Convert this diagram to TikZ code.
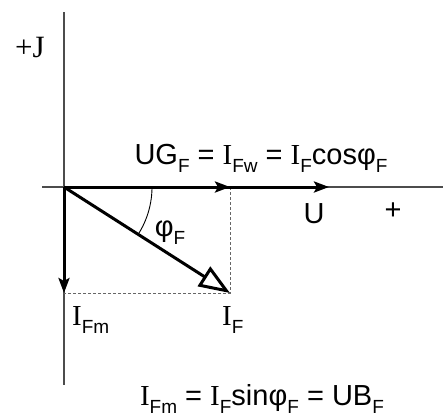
\documentclass[tikz,border=0pt]{standalone}
\usepackage{fontspec}
\setmainfont{Liberation Sans}
\newfontfamily\serifI{Liberation Serif}
\usetikzlibrary{arrows.meta}
\newcommand{\Ii}{{\serifI I}}
\newcommand{\sbs}[1]{\raisebox{-0.28em}{\fontsize{19}{19}\selectfont #1}}
\begin{document}
\begin{tikzpicture}[x=1pt,y=-1pt,
  axis/.style={line width=1.2pt,black!70},
  vec/.style={line width=3pt,-{Stealth[length=15pt,width=11pt,inset=3pt]}},
  openvec/.style={line width=3pt,-{Triangle[open,length=31pt,width=23pt,line width=3pt]}},
  helper/.style={line width=0.9pt,black!60,dashed,dash pattern=on 3pt off 2pt},
  lbl/.style={inner sep=0pt,font=\fontsize{29}{33}\selectfont}]
\useasboundingbox (0,0) rectangle (443,418);
\coordinate (O) at (64,187);
\coordinate (Xl) at (42,187);
\coordinate (Xr) at (443,187);
\coordinate (Yt) at (64,12);
\coordinate (Yb) at (64,385);
\coordinate (Fw) at (230,187);
\coordinate (U) at (329,187);
\coordinate (F) at (230,293);
\coordinate (Fm) at (64,293);
\coordinate (A1) at (152,187);
\draw[axis] (Xl) -- (Xr);
\draw[axis] (Yt) -- (Yb);
\draw[helper] (Fw) -- (F) -- (Fm);
\draw[line width=0.9pt] (A1) arc[start angle=0,end angle=32.6,radius=88];
\draw[vec] (O) -- (U);
\draw[vec] (O) -- (Fw);
\draw[vec] (O) -- (Fm);
\draw[openvec] (O) -- (F);
\node[lbl,font=\fontsize{31}{33}\serifI,anchor=base] (J) at (30,57) {+J};
\node[lbl,anchor=base] (top) at (261,164) {UG\sbs{F} = \Ii\sbs{Fw} = \Ii\sbs{F}cosφ\sbs{F}};
\node[lbl,anchor=base] (Ul) at (314,223) {U};
\node[lbl,anchor=base] (plus) at (393,219) {+};
\node[lbl,anchor=base] (phi) at (170,236) {φ\sbs{F}};
\node[lbl,anchor=base west] (IFm) at (72,325) {\Ii\sbs{Fm}};
\node[lbl,anchor=base west] (IF) at (222,325) {\Ii\sbs{F}};
\node[lbl,anchor=base] (bot) at (262,405) {\Ii\sbs{Fm} = \Ii\sbs{F}sinφ\sbs{F} = UB\sbs{F}};
\end{tikzpicture}
\end{document}
